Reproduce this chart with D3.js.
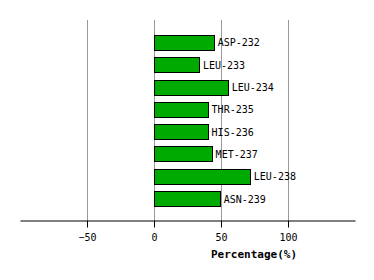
<!DOCTYPE html>
<html>
<head>
<meta charset="utf-8">
<script src="https://cdn.jsdelivr.net/npm/d3@7"></script>
<style>
  body { margin: 0; background: #fff; }
  text { font-family: "DejaVu Sans Mono", monospace; }
</style>
</head>
<body>
<svg id="chart" width="374" height="280"></svg>
<script>
const residues = ["ASP-232", "LEU-233", "LEU-234", "THR-235", "HIS-236", "MET-237", "LEU-238", "ASN-239"];
const percentages = [44.5, 33.5, 55, 40, 40, 43, 71.5, 49];
const tickValues = [-50, 0, 50, 100];

const svg = d3.select("#chart");

const x = d3.scaleLinear()
    .domain([-100, 150])
    .range([20, 355]);

const y = d3.scaleBand()
    .domain(residues)
    .range([27.6, 213.4])
    .padding(0.33);

// grid lines
svg.selectAll(".grid")
    .data(tickValues)
    .enter()
    .append("line")
    .attr("x1", d => Math.round(x(d)) + 0.5)
    .attr("x2", d => Math.round(x(d)) + 0.5)
    .attr("y1", 20)
    .attr("y2", 220)
    .attr("stroke", "#999")
    .attr("stroke-width", 1);

// bars
svg.selectAll(".bar")
    .data(residues)
    .enter()
    .append("rect")
    .attr("x", Math.round(x(0)) + 0.5)
    .attr("y", d => Math.round(y(d)) + 0.5)
    .attr("width", (d, i) => Math.round(x(percentages[i]) - x(0)))
    .attr("height", Math.round(y.bandwidth()))
    .attr("fill", "#00aa00")
    .attr("stroke", "#000")
    .attr("stroke-width", 1);

// labels
svg.selectAll(".label")
    .data(residues)
    .enter()
    .append("text")
    .attr("x", (d, i) => x(percentages[i]) + 4)
    .attr("y", d => y(d) + y.bandwidth() / 2 + 4)
    .attr("font-size", "10px")
    .text(d => d);

// x axis
const axis = svg.append("g")
    .attr("transform", "translate(0,220.5)")
    .call(d3.axisBottom(x).tickValues(tickValues).tickSize(7).tickSizeOuter(0).tickPadding(6));
axis.select(".domain").attr("stroke", "#000");
axis.selectAll(".tick line").attr("stroke", "#000");
axis.selectAll(".tick text")
    .attr("font-family", "DejaVu Sans Mono, monospace")
    .attr("font-size", "10px")
    .attr("fill", "#000");

svg.append("text")
    .attr("x", 254)
    .attr("y", 258)
    .attr("text-anchor", "middle")
    .attr("font-size", "11px")
    .attr("font-weight", "bold")
    .text("Percentage(%)");
</script>
</body>
</html>
